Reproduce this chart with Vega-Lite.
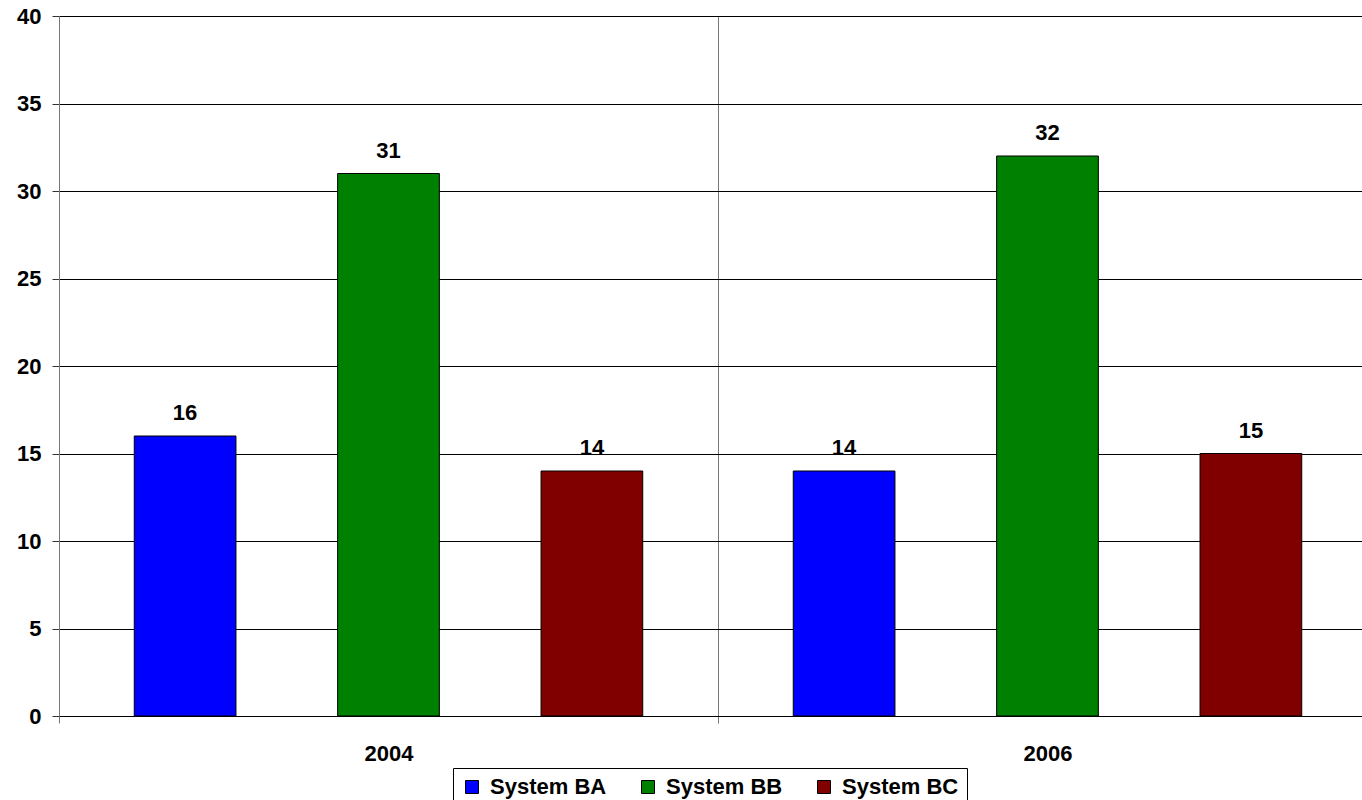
{
  "$schema": "https://vega.github.io/schema/vega-lite/v6.json",
  "autosize": {"type": "none"},
  "width": 1303,
  "height": 700,
  "padding": {"left": 59, "top": 16, "right": 0, "bottom": 84},
  "background": "#ffffff",
  "config": {
    "view": {"stroke": null},
    "font": "Liberation Sans",
    "axis": {"labelFont": "Liberation Sans", "labelFontWeight": "bold", "labelFontSize": 22, "labelColor": "#000000"},
    "legend": {"labelFont": "Liberation Sans", "labelFontWeight": "bold", "labelFontSize": 22, "labelColor": "#000000"}
  },
  "data": {
    "values": [
      {"year": "2004", "system": "System BA", "value": 16},
      {"year": "2004", "system": "System BB", "value": 31},
      {"year": "2004", "system": "System BC", "value": 14},
      {"year": "2006", "system": "System BA", "value": 14},
      {"year": "2006", "system": "System BB", "value": 32},
      {"year": "2006", "system": "System BC", "value": 15}
    ]
  },
  "encoding": {
    "x": {
      "field": "year", "type": "nominal",
      "scale": {"range": [0, 1318], "paddingInner": 0, "paddingOuter": 0},
      "axis": {
        "title": null, "labelAngle": 0, "tickBand": "extent",
        "grid": true, "gridColor": "#777777", "gridWidth": 1,
        "tickSize": 7, "tickColor": "#777777",
        "domainColor": "#000000", "labelPadding": 20
      }
    },
    "xOffset": {
      "field": "system", "type": "nominal",
      "scale": {"paddingInner": 0.5, "paddingOuter": 0.37}
    },
    "y": {
      "field": "value", "type": "quantitative",
      "scale": {"domain": [0, 40], "nice": false},
      "axis": {
        "title": null, "values": [0, 5, 10, 15, 20, 25, 30, 35, 40],
        "grid": true, "gridColor": "#000000", "gridWidth": 1,
        "tickSize": 7, "tickColor": "#333333",
        "domainColor": "#777777", "labelPadding": 11
      }
    }
  },
  "layer": [
    {
      "mark": {"type": "bar", "stroke": "#000000", "strokeWidth": 1},
      "encoding": {
        "color": {
          "field": "system", "type": "nominal",
          "scale": {"domain": ["System BA", "System BB", "System BC"], "range": ["#0000ff", "#008000", "#800000"]},
          "legend": {
            "title": null, "orient": "none", "direction": "horizontal",
            "legendX": 394, "legendY": 752,
            "symbolType": "square", "symbolSize": 169, "symbolStrokeColor": "#000000", "symbolStrokeWidth": 1,
            "labelOffset": 7, "columnPadding": 30, "padding": 8,
            "strokeColor": "#000000", "fillColor": "#ffffff"
          }
        }
      }
    },
    {
      "mark": {"type": "text", "baseline": "alphabetic", "dy": -16, "font": "Liberation Sans", "fontWeight": "bold", "fontSize": 22, "color": "#000000"},
      "encoding": {
        "text": {"field": "value", "type": "quantitative"}
      }
    }
  ]
}
